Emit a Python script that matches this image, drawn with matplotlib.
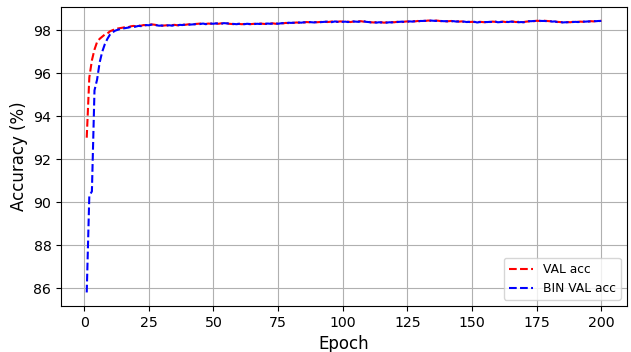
import matplotlib
matplotlib.use("Agg")
import matplotlib.pyplot as plt
import numpy as np

epochs = list(range(1, 201))

val_acc = [
    93.0, 95.8, 96.6, 97.1, 97.45, 97.6, 97.7, 97.8, 97.85, 97.95,
    98.0, 98.05, 98.08, 98.1, 98.12, 98.15, 98.14, 98.18, 98.2, 98.19,
    98.22, 98.21, 98.24, 98.23, 98.25, 98.27, 98.26, 98.24, 98.22, 98.21,
    98.22, 98.23, 98.21, 98.24, 98.25, 98.23, 98.24, 98.26, 98.25, 98.27,
    98.28, 98.26, 98.29, 98.3, 98.31, 98.3, 98.29, 98.31, 98.3, 98.32,
    98.31, 98.3, 98.32, 98.31, 98.33, 98.3, 98.29, 98.28, 98.3, 98.29,
    98.28, 98.29, 98.3, 98.28, 98.29, 98.3, 98.29, 98.31, 98.3, 98.29,
    98.3, 98.31, 98.32, 98.3, 98.31, 98.33, 98.32, 98.34, 98.33, 98.35,
    98.34, 98.36, 98.35, 98.37, 98.36, 98.38, 98.37, 98.39, 98.38, 98.37,
    98.38, 98.39, 98.4, 98.38, 98.39, 98.41, 98.4, 98.39, 98.41, 98.4,
    98.39, 98.4, 98.38, 98.4, 98.39, 98.41, 98.42, 98.4, 98.41, 98.39,
    98.37, 98.36, 98.38, 98.36, 98.37, 98.35, 98.37, 98.36, 98.38, 98.37,
    98.39, 98.4, 98.38, 98.4, 98.41, 98.39, 98.42, 98.41, 98.43, 98.42,
    98.44, 98.43, 98.45, 98.44, 98.43, 98.45, 98.44, 98.42, 98.43, 98.41,
    98.42, 98.43, 98.41, 98.42, 98.4, 98.41, 98.39, 98.4, 98.38, 98.39,
    98.38, 98.37, 98.39, 98.38, 98.37, 98.39, 98.38, 98.4, 98.39, 98.38,
    98.39, 98.4, 98.38, 98.39, 98.41, 98.4, 98.38, 98.39, 98.37, 98.38,
    98.4, 98.41, 98.43, 98.42, 98.44, 98.43, 98.42, 98.44, 98.43, 98.42,
    98.41, 98.4, 98.39, 98.38, 98.37, 98.36, 98.38, 98.37, 98.39, 98.38,
    98.39, 98.4, 98.39, 98.41, 98.4, 98.42, 98.41, 98.43, 98.42, 98.44,
]

bin_val_acc = [
    85.8, 90.3, 90.5, 95.2, 95.7, 96.5, 97.0, 97.35, 97.6, 97.8,
    97.9, 97.98, 98.02, 98.06, 98.08, 98.1, 98.12, 98.15, 98.14, 98.17,
    98.2, 98.19, 98.22, 98.24, 98.23, 98.26, 98.25, 98.23, 98.21, 98.22,
    98.2, 98.22, 98.23, 98.21, 98.24, 98.22, 98.25, 98.24, 98.26, 98.25,
    98.26, 98.27, 98.28, 98.27, 98.29, 98.31, 98.28, 98.3, 98.31, 98.3,
    98.32, 98.31, 98.3, 98.33, 98.32, 98.31, 98.3, 98.29, 98.28, 98.3,
    98.29, 98.28, 98.3, 98.29, 98.28, 98.29, 98.3, 98.29, 98.31, 98.3,
    98.31, 98.3, 98.31, 98.32, 98.3, 98.32, 98.33, 98.32, 98.35, 98.34,
    98.35, 98.34, 98.36, 98.35, 98.37, 98.36, 98.38, 98.37, 98.36, 98.38,
    98.37, 98.38, 98.39, 98.4, 98.37, 98.38, 98.41, 98.39, 98.4, 98.39,
    98.4, 98.38, 98.39, 98.41, 98.4, 98.39, 98.41, 98.42, 98.39, 98.38,
    98.36, 98.37, 98.35, 98.37, 98.36, 98.36, 98.35, 98.37, 98.36, 98.38,
    98.38, 98.39, 98.4, 98.38, 98.4, 98.41, 98.4, 98.42, 98.41, 98.43,
    98.43, 98.44, 98.43, 98.45, 98.44, 98.43, 98.45, 98.43, 98.42, 98.42,
    98.41, 98.42, 98.42, 98.4, 98.41, 98.4, 98.4, 98.38, 98.39, 98.38,
    98.39, 98.36, 98.38, 98.37, 98.38, 98.38, 98.39, 98.38, 98.4, 98.37,
    98.38, 98.39, 98.39, 98.38, 98.4, 98.39, 98.39, 98.37, 98.38, 98.37,
    98.39, 98.42, 98.42, 98.43, 98.43, 98.44, 98.43, 98.43, 98.42, 98.43,
    98.4, 98.41, 98.38, 98.39, 98.36, 98.37, 98.37, 98.38, 98.38, 98.39,
    98.38, 98.39, 98.4, 98.4, 98.41, 98.41, 98.42, 98.42, 98.43, 98.43,
]

x_ticks = [0, 25, 50, 75, 100, 125, 150, 175, 200]
y_ticks = [86, 88, 90, 92, 94, 96, 98]

fig = plt.figure(figsize=(6.31, 3.52), dpi=100)
ax = fig.add_axes([61/631, 1 - 306/352, (627-61)/631, (306-7)/352])
ax.plot(epochs, val_acc, 'r--', lw=1.5, label='VAL acc')
ax.plot(epochs, bin_val_acc, 'b--', lw=1.5, label='BIN VAL acc')
ax.set_xlim(-8.95, 209.95)
ax.set_ylim(85.17, 99.08)
ax.set_xticks(x_ticks)
ax.set_yticks(y_ticks)
ax.tick_params(labelsize=10.2)
ax.set_xlabel('Epoch', fontsize=12)
ax.set_ylabel('Accuracy (%)', fontsize=12)
ax.grid(True)
ax.legend(loc='lower right', fontsize=8.8)
fig.savefig('out.png', dpi=100)
